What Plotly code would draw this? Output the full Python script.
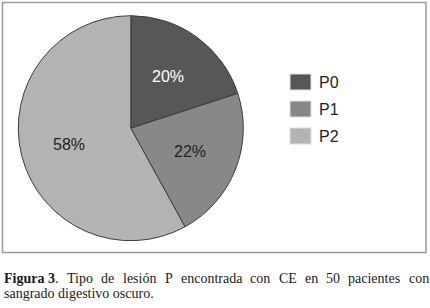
import math
import plotly.graph_objects as go

# ---- data ----
labels = ["P0", "P1", "P2"]
patients = [10, 11, 29]          # of 50 patients -> 20%, 22%, 58%
colors = ["#575757", "#888888", "#b3b3b3"]
text_colors = ["#ffffff", "#222222", "#222222"]
caption_words = ["Tipo", "de", "lesión", "P", "encontrada", "con", "CE", "en", "50", "pacientes", "con"]
caption_line2 = "sangrado digestivo oscuro."

W, H = 430, 308

# Times metrics (per 1000 em) for justification of the first caption line
reg = {' ': 250, '.': 250, '0': 500, '3': 500, '5': 500, 'a': 444, 'c': 444, 'd': 500, 'e': 444,
       'i': 278, 'l': 278, 'n': 500, 'o': 500, 'p': 500, 'r': 333, 's': 389, 't': 278, 'ó': 500,
       'C': 667, 'E': 611, 'P': 556, 'T': 611, 'g': 500, 'u': 500}
bold = {'F': 611, 'i': 278, 'g': 500, 'u': 556, 'r': 444, 'a': 500, '3': 500}
FS = 14

def wid(s, b=False):
    t = bold if b else reg
    return sum(t.get(ch, 500) for ch in s) * FS / 1000.0

narrow = "Liberation Sans Narrow, Arial Narrow, Liberation Sans, Arial"
serif = "Liberation Serif"

# pie geometry (pixels from top-left)
CX, CY, R = 130.8, 128.2, 112.5

fig = go.Figure(go.Pie(
    labels=labels, values=patients, sort=False, direction="clockwise", rotation=0,
    marker=dict(colors=colors, line=dict(color="#3c3c3c", width=1)),
    textinfo="none",
    domain=dict(x=[(CX - R) / W, (CX + R) / W], y=[(H - CY - R) / H, (H - CY + R) / H]),
    showlegend=False, hoverinfo="label+percent",
))

shapes = []
annotations = []

# percentage labels placed at each slice's mid-angle
total = sum(patients)
cum = 0
for v, tc in zip(patients, text_colors):
    mid = (cum + v / 2) / total * 2 * math.pi
    cum += v
    px = CX + 0.57 * R * math.sin(mid)
    py = CY - 0.57 * R * math.cos(mid)
    annotations.append(dict(text=f"{round(100 * v / total)}%", xref="paper", yref="paper",
                            x=px / W, y=(H - py) / H, xanchor="center", yanchor="middle",
                            showarrow=False, font=dict(family=narrow, size=16, color=tc)))

# outer frame
shapes.append(dict(type="rect", xref="paper", yref="paper",
                   x0=2.5 / W, x1=426 / W, y0=(H - 252.5) / H, y1=(H - 2.5) / H,
                   line=dict(color="#9c9c9c", width=1.5)))
# legend
for i, (lab, col) in enumerate(zip(labels, colors)):
    top = 74 + i * 27
    shapes.append(dict(type="rect", xref="paper", yref="paper",
                       x0=290 / W, x1=311 / W, y0=(H - top - 16) / H, y1=(H - top) / H,
                       fillcolor=col, line=dict(color="#e0e0e0", width=1)))
    annotations.append(dict(text=lab, xref="paper", yref="paper", x=317 / W, y=(H - top - 8) / H,
                            xanchor="left", yanchor="middle", showarrow=False,
                            font=dict(family=narrow, size=16, color="#222222")))

# caption line 1 (justified)
first = "<b>Figura 3</b>."
first_w = wid("Figura", True) + wid(" ") + wid("3", True) + wid(".")
words_w = [wid(w) for w in caption_words]
left, right = 2.0, 427.0
gap = (right - left - first_w - sum(words_w)) / len(caption_words)
y1 = (H - 278) / H
annotations.append(dict(text=first, xref="paper", yref="paper", x=left / W, y=y1,
                        xanchor="left", yanchor="middle", showarrow=False,
                        font=dict(family=serif, size=FS, color="#1a1a1a")))
x = left + first_w + gap
for w, ww in zip(caption_words, words_w):
    annotations.append(dict(text=w, xref="paper", yref="paper", x=x / W, y=y1,
                            xanchor="left", yanchor="middle", showarrow=False,
                            font=dict(family=serif, size=FS, color="#1a1a1a")))
    x += ww + gap
annotations.append(dict(text=caption_line2, xref="paper", yref="paper", x=left / W, y=(H - 293) / H,
                        xanchor="left", yanchor="middle", showarrow=False,
                        font=dict(family=serif, size=FS, color="#1a1a1a")))

fig.update_layout(width=W, height=H, margin=dict(l=0, r=0, t=0, b=0),
                  paper_bgcolor="white", plot_bgcolor="white",
                  shapes=shapes, annotations=annotations)
fig.write_html("out.html", config={"displayModeBar": False},
               post_script="document.body.style.margin='0';document.body.style.padding='0';")
